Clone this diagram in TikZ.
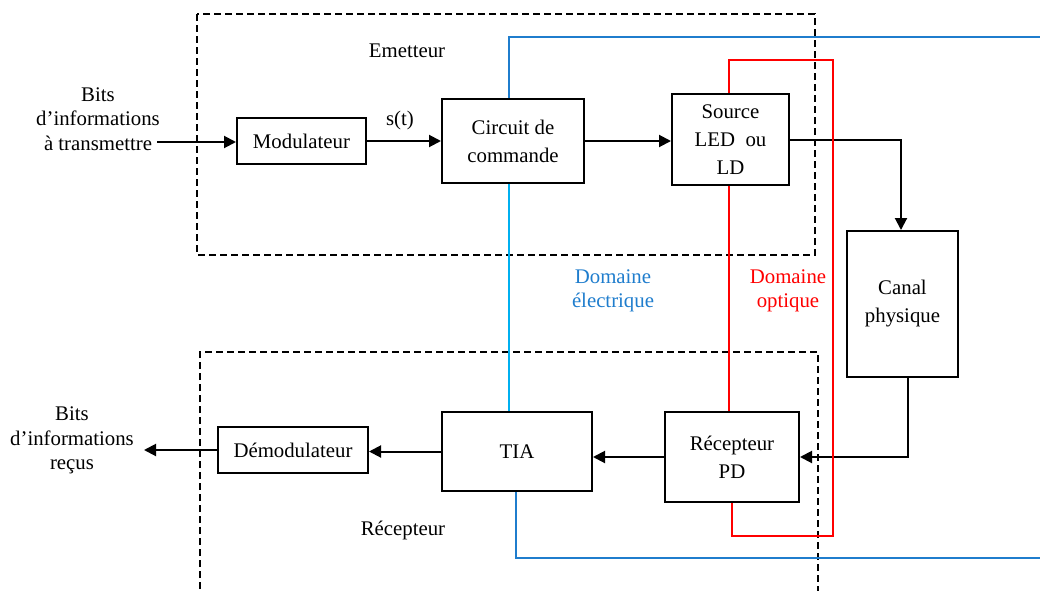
\documentclass[tikz,border=0pt]{standalone}
\usepackage{fontspec}
\setmainfont{Liberation Serif}
\usetikzlibrary{arrows.meta,calc}
\definecolor{dblue}{RGB}{31,125,205}
\definecolor{lcyan}{RGB}{0,176,240}
\definecolor{dred}{RGB}{255,0,0}
\begin{document}
\begin{tikzpicture}[x=0.5pt,y=-0.5pt,
  font=\fontsize{10.4}{14}\selectfont,
  blk/.style={draw,line width=1pt,rectangle,inner sep=0pt,align=center},
  lbl/.style={inner sep=0pt,align=center},
  flow/.style={line width=1pt,-{Triangle[length=6pt,width=6pt]}},
  zone/.style={line width=0.65pt,dash pattern=on 3.5pt off 2pt},
  eline/.style={line width=0.8pt,dblue},
  cline/.style={line width=0.8pt,lcyan},
  oline/.style={line width=0.8pt,dred}]
\useasboundingbox (0,0) rectangle (1040,590);
% zones
\draw[zone] (197,14) rectangle (815,255);
\draw[zone] (200,600) -- (200,352) -- (818,352) -- (818,600);
% blocks
\node[blk,minimum width=64.5pt,minimum height=23pt] (mod) at (301.5,141) {Modulateur};
\node[blk,minimum width=71pt,minimum height=42pt] (circ) at (513,141) {Circuit de\\commande};
\node[blk,minimum width=58.5pt,minimum height=45.5pt] (src) at (730.5,139.5) {Source\\LED~ ou\\LD};
\node[blk,minimum width=55.5pt,minimum height=73pt] (canal) at (902.5,304) {Canal\\physique};
\node[blk,minimum width=67pt,minimum height=45pt] (recep) at (732,457) {Récepteur\\PD};
\node[blk,minimum width=75pt,minimum height=39.5pt] (tia) at (517,451.5) {TIA};
\node[blk,minimum width=75pt,minimum height=23pt] (demod) at (293,450) {Démodulateur};
% labels
\node[lbl,font=\fontsize{10.4}{12.25}\selectfont] (bitsin) at (98,119) {Bits\\d’informations\\à transmettre};
\node[lbl,font=\fontsize{10.4}{12.25}\selectfont] (bitsout) at (72,440.5) {Bits\\d’informations\\reçus};
\node[lbl] (st) at (400,120) {s(t)};
\node[lbl] (em) at (407,51) {Emetteur};
\node[lbl] (rc) at (403,530) {Récepteur};
\node[lbl,text=dblue,font=\fontsize{10.4}{12}\selectfont] (de) at (613,291) {Domaine\\électrique};
\node[lbl,text=dred,font=\fontsize{10.4}{12}\selectfont] (dop) at (788,291) {Domaine\\optique};
% coordinates
\coordinate (in) at (157,142);
\coordinate (out) at (144,450);
\coordinate (etop) at (509,37);
\coordinate (eright) at (1040,37);
\coordinate (ebot) at (515.7,558);
\coordinate (ebright) at (1040,558);
\coordinate (otl) at (729,60);
\coordinate (otr) at (833,60);
\coordinate (obr) at (833,536);
% flows
\draw[flow] (in) -- (mod.west |- in);
\draw[flow] (mod.east) -- (circ.west |- mod.east);
\draw[flow] (circ.east) -- (src.west |- circ.east);
\draw[flow] (src.east) -| ([xshift=-0.75pt]canal.north);
\draw[flow] ([xshift=2.75pt]canal.south) |- (recep.east);
\draw[flow] (recep.west) -- (tia.east |- recep.west);
\draw[flow] (tia.west) -- (demod.east |- tia.west);
\draw[flow] (demod.west) -- (out);
% electrical domain
\draw[eline] (etop |- circ.north) -- (etop) -- (eright);
\draw[cline] (etop |- circ.south) -- (etop |- tia.north);
\draw[eline] (ebot |- tia.south) -- (ebot) -- (ebright);
% optical domain
\draw[oline] (otl |- src.north) -- (otl) -- (otr) -- (obr) -- (obr -| recep.south) -- (recep.south);
\draw[oline] (otl |- src.south) -- (otl |- recep.north);
\end{tikzpicture}
\end{document}
